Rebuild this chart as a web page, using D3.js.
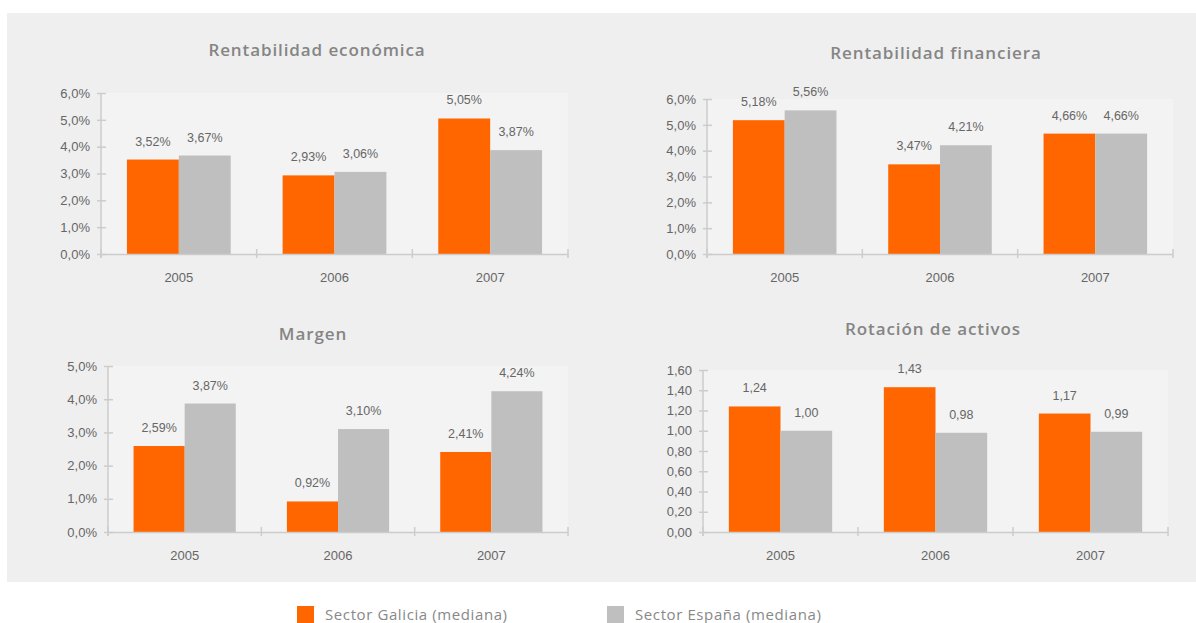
<!DOCTYPE html>
<html>
<head>
<meta charset="utf-8">
<script src="https://cdn.jsdelivr.net/npm/d3@7"></script>
<style>
  html, body { margin: 0; padding: 0; background: #fff; }
  svg { display: block; font-family: "Liberation Sans", Arial, sans-serif; }
</style>
</head>
<body>
<div id="chart"></div>
<script>
// data
const years = ["2005", "2006", "2007"];
const seriesNames = ["Sector Galicia (mediana)", "Sector España (mediana)"];

const rentEconGalicia = [3.52, 2.93, 5.05];
const rentEconEspana = [3.67, 3.06, 3.87];
const rentEconTicks = [0, 1, 2, 3, 4, 5, 6];

const rentFinGalicia = [5.18, 3.47, 4.66];
const rentFinEspana = [5.56, 4.21, 4.66];
const rentFinTicks = [0, 1, 2, 3, 4, 5, 6];

const margenGalicia = [2.59, 0.92, 2.41];
const margenEspana = [3.87, 3.10, 4.24];
const margenTicks = [0, 1, 2, 3, 4, 5];

const rotacionGalicia = [1.24, 1.43, 1.17];
const rotacionEspana = [1.00, 0.98, 0.99];
const rotacionTicks = [0, 0.2, 0.4, 0.6, 0.8, 1.0, 1.2, 1.4, 1.6];

const W = 1196, H = 623;
const orange = "#ff6600", grey = "#bfbfbf";

const svg = d3.select("#chart").append("svg")
  .attr("width", W)
  .attr("height", H);

// outer panel
svg.append("rect")
  .attr("x", 7).attr("y", 13)
  .attr("width", W - 7).attr("height", 569)
  .attr("fill", "#efefef");

const comma = (v, d) => v.toFixed(d).replace(".", ",");
const pct1 = v => comma(v, 1) + "%";
const pct2 = v => comma(v, 2) + "%";
const num2 = v => comma(v, 2);

const charts = [
  { title: "Rentabilidad económica", g: rentEconGalicia, e: rentEconEspana, ticks: rentEconTicks,
    tickFmt: pct1, valFmt: pct2, left: 101, right: 568, top: 93, bottom: 254, titleX: 317, titleY: 56 },
  { title: "Rentabilidad financiera", g: rentFinGalicia, e: rentFinEspana, ticks: rentFinTicks,
    tickFmt: pct1, valFmt: pct2, left: 707, right: 1173, top: 99, bottom: 254, titleX: 936, titleY: 59 },
  { title: "Margen", g: margenGalicia, e: margenEspana, ticks: margenTicks,
    tickFmt: pct1, valFmt: pct2, left: 108, right: 568, top: 366, bottom: 532, titleX: 313, titleY: 340 },
  { title: "Rotación de activos", g: rotacionGalicia, e: rotacionEspana, ticks: rotacionTicks,
    tickFmt: num2, valFmt: num2, left: 703, right: 1168, top: 370, bottom: 532, titleX: 933, titleY: 335 }
];

charts.forEach(c => {
  const g = svg.append("g");
  const tmax = c.ticks[c.ticks.length - 1];

  const x0 = d3.scaleBand()
    .domain(years)
    .range([c.left, c.right])
    .padding(0);

  const bw = x0.bandwidth();
  const x1 = d3.scaleBand()
    .domain(["g", "e"])
    .range([bw / 6, bw * 5 / 6]);

  const y = d3.scaleLinear()
    .domain([0, tmax])
    .range([c.bottom, c.top]);

  // plot background
  g.append("rect")
    .attr("x", c.left).attr("y", c.top)
    .attr("width", c.right - c.left).attr("height", c.bottom - c.top)
    .attr("fill", "#f3f3f3");

  // title
  g.append("text")
    .attr("x", c.titleX)
    .attr("y", c.titleY)
    .attr("text-anchor", "middle")
    .style("font-family", "'Open Sans', 'Liberation Sans', sans-serif")
    .style("font-weight", 600)
    .style("font-size", "17px")
    .style("letter-spacing", "0.9px")
    .style("fill", "#858585")
    .text(c.title);

  // bars
  const rows = years.map((yr, i) => ({ year: yr, g: c.g[i], e: c.e[i] }));
  const groups = g.append("g")
    .selectAll("g")
    .data(rows)
    .join("g")
    .attr("transform", d => `translate(${x0(d.year)},0)`);

  const items = groups.selectAll("g")
    .data(d => [{ key: "g", value: d.g }, { key: "e", value: d.e }])
    .join("g");

  items.append("rect")
    .attr("x", d => x1(d.key))
    .attr("y", d => y(d.value))
    .attr("width", x1.bandwidth())
    .attr("height", d => c.bottom - y(d.value))
    .attr("fill", d => d.key === "g" ? orange : grey);

  items.append("text")
    .attr("x", d => x1(d.key) + x1.bandwidth() / 2)
    .attr("y", d => y(d.value) - 14)
    .attr("text-anchor", "middle")
    .style("font-size", "12.5px")
    .style("fill", "#666")
    .text(d => c.valFmt(d.value));

  // y axis
  const yAxis = g.append("g")
    .attr("transform", `translate(${c.left},0)`)
    .call(d3.axisLeft(y).tickValues(c.ticks).tickFormat(c.tickFmt).tickSize(4).tickPadding(7));
  yAxis.select(".domain")
    .attr("d", `M0,${c.top}V${c.bottom + 4}`)
    .attr("stroke", "#cccccc").attr("stroke-width", 1.5);
  yAxis.selectAll(".tick line")
    .attr("x1", 5).attr("x2", -4)
    .attr("stroke", "#cccccc").attr("stroke-width", 1.5);
  yAxis.selectAll(".tick text")
    .style("font-size", "13px")
    .style("font-family", "'Liberation Sans', Arial, sans-serif")
    .attr("fill", "#666");

  // x axis
  const xAxis = g.append("g")
    .attr("transform", `translate(0,${c.bottom})`)
    .call(d3.axisBottom(x0).tickSize(0).tickPadding(19));
  xAxis.select(".domain")
    .attr("stroke", "#cccccc").attr("stroke-width", 1.5);
  xAxis.selectAll(".tick text")
    .style("font-size", "13px")
    .style("font-family", "'Liberation Sans', Arial, sans-serif")
    .attr("fill", "#666");

  // category boundary ticks
  const bounds = years.map(yr => x0(yr)).concat([c.right]);
  xAxis.append("g")
    .selectAll("line")
    .data(bounds)
    .join("line")
    .attr("x1", d => d).attr("x2", d => d)
    .attr("y1", -5).attr("y2", 4)
    .attr("stroke", "#cccccc").attr("stroke-width", 1.5);
});

// legend
const legend = svg.append("g");
const legendX = [297, 607];
seriesNames.forEach((name, i) => {
  const lg = legend.append("g")
    .attr("transform", `translate(${legendX[i]},606)`);
  lg.append("rect")
    .attr("width", 17).attr("height", 17)
    .attr("fill", i === 0 ? orange : grey);
  lg.append("text")
    .attr("x", 28)
    .attr("y", 14)
    .style("font-family", "'Open Sans', 'Liberation Sans', sans-serif")
    .style("font-size", "15px")
    .style("letter-spacing", "0.6px")
    .style("fill", "#888")
    .text(name);
});
</script>
</body>
</html>
